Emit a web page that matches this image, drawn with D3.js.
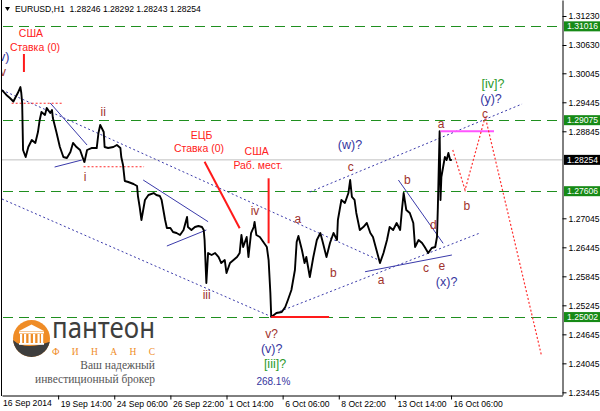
<!DOCTYPE html>
<html><head><meta charset="utf-8">
<script src="https://cdn.jsdelivr.net/npm/d3@7"></script>
<style>body{margin:0;background:#fff}svg{display:block}</style>
</head><body>
<svg id="c" width="600" height="411"></svg>
<script>
// ---- data (H1 bars, close prices) ----
const barIdx = [0,5,9,13,15,18,21,22,23,24,27,30,34,38,41,43,45,49,51,55,57,58,62,66,70,74,78,81,85,89,93,94,97,102,108,110,112,116,117,121,127,131,135,136,138,140,144,150,154,155,157,159,163,167,173,176,180,182,184,186,188,192,195,199,203,207,211,212,216,220,224,228,230,231,233,235,239,243,247,250,254,256,260,264,268,271,273,275,279,281,284,287,288,290,294,298,302,304,306,307,313,319,323,326,330,334,336,338,342,345,347,351,355,359,363,366,370,374,378,382,383,385,387,391,395,397,399,402,404,408,412,416,420,423,427,431,435,439,442,446,450,454,456,458,461,465,469,471,475,479,482,486,490,494,496,497,499,500,501,503,505,507,509,511,513];
const closePx = [1.29699,1.29596,1.29534,1.29461,1.29534,1.29637,1.29761,1.29637,1.29430,1.28458,1.28313,1.28520,1.28665,1.28603,1.28830,1.29079,1.29244,1.29182,1.29327,1.29223,1.29285,1.29120,1.28830,1.28520,1.28313,1.28292,1.28417,1.28603,1.28520,1.28458,1.28251,1.28210,1.28458,1.28499,1.28499,1.28810,1.28975,1.28830,1.28520,1.28499,1.28520,1.28561,1.28499,1.28313,1.28148,1.27817,1.27796,1.27755,1.27713,1.27506,1.27279,1.27010,1.27424,1.27527,1.27568,1.27527,1.27506,1.27424,1.27217,1.27010,1.26844,1.26844,1.26762,1.26741,1.26700,1.26803,1.27072,1.26865,1.26803,1.26865,1.26886,1.26865,1.26803,1.26596,1.25707,1.26327,1.26286,1.26327,1.26244,1.26120,1.26182,1.25913,1.26120,1.26182,1.26244,1.26327,1.26700,1.26451,1.26658,1.26244,1.26741,1.26865,1.26969,1.26700,1.26658,1.26555,1.26451,1.26182,1.25500,1.25003,1.25086,1.25107,1.25210,1.25355,1.25562,1.25976,1.26555,1.26679,1.26389,1.26120,1.26244,1.25831,1.26244,1.26596,1.26741,1.26534,1.26244,1.26534,1.26741,1.26596,1.27010,1.27217,1.27424,1.27362,1.27568,1.27837,1.27486,1.27424,1.27155,1.26803,1.26865,1.26948,1.26741,1.26658,1.26389,1.26120,1.26327,1.26596,1.26865,1.26803,1.26948,1.26803,1.27217,1.27568,1.27217,1.27155,1.26948,1.26451,1.26596,1.26534,1.26451,1.26327,1.26431,1.26451,1.26658,1.27279,1.28845,1.27424,1.27899,1.28106,1.28313,1.28251,1.28396,1.28251,1.28254];

const yTickValues = [1.31230,1.30630,1.30045,1.29445,1.28845,1.27045,1.26445,1.25845,1.25245,1.24645,1.24045,1.23445];
const levelValues = [1.31016,1.29075,1.27606,1.25002];
const currentPrice = 1.28254;
const xTickBars = [64,128,192,256,320,384,448,512];
const xTickLabels = ["19 Sep 14:00","24 Sep 06:00","26 Sep 22:00","1 Oct 14:00","6 Oct 06:00","8 Oct 22:00","13 Oct 14:00","16 Oct 06:00"];
const firstLabel = "16 Sep 2014";
const header = "EURUSD,H1  1.28246 1.28292 1.28243 1.28254";

const blueDotted = [
  [[0,1.29699],[431,1.26170]],
  [[0,1.27444],[308,1.25003]],
  [[312,1.25086],[545,1.26741]],
  [[351,1.27589],[593,1.29410]]
];
const blueSolid = [
  [[55,1.29430],[97,1.28561]],
  [[60,1.28106],[91,1.28251]],
  [[161,1.27837],[235,1.26975]],
  [[188,1.26472],[233,1.26803]],
  [[452,1.27837],[503,1.26528]],
  [[414,1.25940],[513,1.26286]]
];
const redDotted = [
  [[11,1.29425],[70,1.29425]],
  [[93,1.28112],[162,1.28112]]
];
const redSolid = [
  [[25,1.30444],[25,1.30072]],
  [[231,1.28216],[271,1.26838]],
  [[304,1.27873],[304,1.26528]],
  [[307,1.25002],[373,1.25002]]
];
const magentaLine = [[500,1.28845],[561,1.28845]];
const projection = [[514,1.28458],[528,1.27631],[551,1.29147],[615,1.24217]];

const waveLabels = [
  ["ii",115.5,1.29250],["i",94.6,1.27906],["iii",233.4,1.25458],["iv",288.5,1.27202],
  ["a",337.2,1.27045],["b",377.8,1.25920],["c",397.6,1.28112],["a",432.2,1.25769],
  ["b",462.1,1.27837],["c",483.5,1.26011],["d",491.8,1.26906],["e",501.4,1.26058],
  ["b",529.9,1.27299],["a",500.6,1.29010],["c",550.7,1.29217],["v?",307.5,1.24666],["v",1,1.30083]
];
const blueLabels = [
  ["(w)?",396.8,1.28561],["(x)?",507,1.25733],["(y)?",557.6,1.29513],["(v)?",307.5,1.24356],["(v)",0,1.30393]
];
const greenLabels = [["[iii]?",311.3,1.24045],["[iv]?",559.9,1.29823]];
const pctLabel = ["268.1%",309.4,1.23665];
const newsLabels = [
  ["США",33,1.30878],["Ставка (0)",37.6,1.30578],
  ["ЕЦБ",227.7,1.28768],["Ставка (0)",224.6,1.28493],
  ["США",290.4,1.28423],["Раб. мест.",291.9,1.28148]
];

// ---- drawing ----
const svg = d3.select("#c");
const x = d3.scaleLinear().domain([0,639]).range([2,562.4]);
const y = d3.scaleLinear().domain([1.23390,1.31561]).range([395,0]);
const FONT = "'Liberation Sans', Arial, sans-serif";

svg.append("defs").append("clipPath").attr("id","plot")
  .append("rect").attr("x",2).attr("y",0).attr("width",560.5).attr("height",395);
const g = svg.append("g").attr("clip-path","url(#plot)");
const line = d3.line().x(d=>x(d[0])).y(d=>y(d[1]));

// current price line
g.append("line").attr("x1",2).attr("x2",562.4).attr("y1",y(currentPrice)).attr("y2",y(currentPrice))
  .attr("stroke","#c0c0c0").attr("stroke-width",1);
// level lines
g.selectAll(".lvl").data(levelValues).join("line")
  .attr("x1",3).attr("x2",562.4).attr("y1",d=>Math.round(y(d))+0.5).attr("y2",d=>Math.round(y(d))+0.5)
  .attr("stroke","#1f8f1f").attr("stroke-width",1).attr("stroke-dasharray","10,6");

// blue dotted channels
g.selectAll(".bd").data(blueDotted).join("path").attr("d",line)
  .attr("fill","none").attr("stroke","#3a3aaa").attr("stroke-width",1).attr("stroke-dasharray","2,2.5");
// blue solid
g.selectAll(".bs").data(blueSolid).join("path").attr("d",line)
  .attr("fill","none").attr("stroke","#3a3aaa").attr("stroke-width",1);
// red dotted levels
g.selectAll(".rd").data(redDotted).join("path").attr("d",line)
  .attr("fill","none").attr("stroke","#ff2a2a").attr("stroke-width",1.2).attr("stroke-dasharray","2,2");

// price line
const series = barIdx.map((b,i)=>[b,closePx[i]]);
g.append("path").datum(series).attr("d",line).attr("fill","none")
  .attr("stroke","#000").attr("stroke-width",1.9).attr("stroke-linejoin","round");

// red solid
g.selectAll(".rs").data(redSolid).join("path").attr("d",line)
  .attr("fill","none").attr("stroke","#ff1a1a").attr("stroke-width",2);
// magenta
g.append("path").datum(magentaLine).attr("d",line).attr("fill","none")
  .attr("stroke","#ff55ff").attr("stroke-width",2);
// projection
g.append("path").datum(projection).attr("d",line).attr("fill","none")
  .attr("stroke","#ff3030").attr("stroke-width",1.2).attr("stroke-dasharray","2,2");

// labels
function labels(data, color, size){
  g.selectAll(null).data(data).join("text")
    .attr("x",d=>x(d[1])).attr("y",d=>y(d[2])).attr("dy","0.35em")
    .attr("text-anchor","middle").attr("fill",color)
    .attr("font-family",FONT).attr("font-size",size).text(d=>d[0]);
}
labels(waveLabels,"#a0322c",12);
labels(blueLabels,"#3535a0",12.5);
labels(greenLabels,"#2a9a2a",12.5);
labels([pctLabel],"#3535a0",10);
labels(newsLabels,"#ff2020",10.5);

// axes
const yAxis = d3.axisRight(y).tickValues(yTickValues).tickSize(4).tickSizeOuter(0).tickFormat(d3.format(".5f"));
const ya = svg.append("g").attr("transform","translate(562.5,0)").call(yAxis);
ya.selectAll("text").attr("font-family",FONT).attr("font-size",8.6).attr("fill","#000").attr("x",6);
ya.selectAll("line,path").attr("stroke","#000");

const xAxis = d3.axisBottom(x).tickValues(xTickBars).tickSize(4).tickSizeOuter(0)
  .tickFormat((d,i)=>xTickLabels[i]);
const xa = svg.append("g").attr("transform","translate(0,395.5)").call(xAxis);
xa.selectAll("text").attr("font-family",FONT).attr("font-size",8.6).attr("fill","#000")
  .attr("text-anchor","start").attr("x",2).attr("y",5).attr("dy","0.71em");
xa.selectAll("line,path").attr("stroke","#000");
svg.append("text").attr("x",x(0)+1).attr("y",406).attr("font-family",FONT).attr("font-size",8.6).text(firstLabel);
// left border
svg.append("line").attr("x1",1.5).attr("x2",1.5).attr("y1",0).attr("y2",396).attr("stroke","#000");

// level price boxes
const boxes = levelValues.map(v=>({v,fill:"#168a16"})).concat([{v:currentPrice,fill:"#000"}]);
const bx = svg.selectAll(".box").data(boxes).join("g").attr("transform",d=>`translate(564,${y(d.v)})`);
bx.append("rect").attr("x",0).attr("y",-5).attr("width",36).attr("height",10).attr("fill",d=>d.fill);
bx.append("text").attr("x",3).attr("dy","0.35em").attr("fill","#fff").attr("font-family",FONT)
  .attr("font-size",8.6).text(d=>d3.format(".5f")(d.v));

// header
svg.append("path").attr("d","M5,7 L10,7 L7.5,11 Z").attr("fill","#000");
svg.append("text").attr("x",15).attr("y",12).attr("font-family",FONT).attr("font-size",8.6)
  .attr("fill","#000").attr("xml:space","preserve").style("white-space","pre").text(header);

// logo
const logo = svg.append("g");
logo.append("clipPath").attr("id","lc").append("circle").attr("cx",31.5).attr("cy",338.5).attr("r",18.5);
const lg = logo.append("g").attr("clip-path","url(#lc)");
lg.append("rect").attr("x",12).attr("y",319).attr("width",40).attr("height",40).attr("fill","#ef8c26");
lg.append("path").attr("d","M12,339 Q24,352 52,341 L52,360 L12,360 Z").attr("fill","#3e3e3e");
const tw = logo.append("g").attr("fill","#fff");
tw.append("path").attr("d","M19,331 L31.5,324.5 L44,331 Z");
tw.append("rect").attr("x",19).attr("y",331.5).attr("width",25).attr("height",2);
[21,25,29.5,34,38.5,42].forEach(cx=>tw.append("rect").attr("x",cx-1).attr("y",334).attr("width",2.2).attr("height",9));
tw.append("rect").attr("x",19).attr("y",343).attr("width",25).attr("height",1.8);
logo.append("text").attr("x",52).attr("y",338).attr("font-family","'Noto Sans', sans-serif")
  .attr("font-size",29).attr("fill","#3e3e3e").attr("textLength",103).attr("lengthAdjust","spacingAndGlyphs").text("пантеон");
logo.append("text").attr("x",52).attr("y",355).attr("font-family","'Liberation Serif', serif")
  .attr("font-size",9.5).attr("fill","#ef8c26").attr("textLength",103).attr("lengthAdjust","spacing").text("ФИНАНС");
logo.append("text").attr("x",155).attr("y",368.5).attr("text-anchor","end").attr("font-family","'Liberation Serif', serif")
  .attr("font-size",11.5).attr("fill","#555").text("Ваш надежный");
logo.append("text").attr("x",155).attr("y",382.5).attr("text-anchor","end").attr("font-family","'Liberation Serif', serif")
  .attr("font-size",11.5).attr("fill","#555").text("инвестиционный брокер");
</script>
</body></html>
